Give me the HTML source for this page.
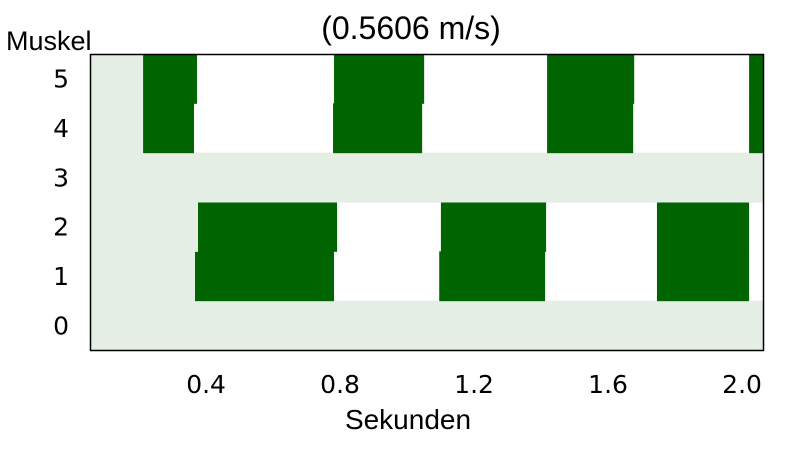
<!DOCTYPE html>
<html><head><meta charset="utf-8"><style>
body{margin:0;background:#fff}
svg text{font-family:"DejaVu Sans","Liberation Sans",sans-serif;fill:#000}
svg text.lib{font-family:"Liberation Sans",sans-serif}
</style></head><body>
<svg width="800" height="450">
<g id="plot"></g>
<text class="lib" x="411" y="39" font-size="32" text-anchor="middle">(0.5606 m/s)</text>
<text class="lib" x="6" y="50" font-size="27">Muskel</text>
<text class="lib" x="408" y="429" font-size="28" text-anchor="middle">Sekunden</text>
<g id="ticks"></g>
<rect x="90.5" y="54.5" width="673" height="296" fill="none" stroke="#000" stroke-width="1.5"/>
</svg>
<script>
const rows=[0,1,2,3,4,5];
const onsets={1:[0.367,1.096,1.746],2:[0.376,1.101,1.746],4:[0.212,0.779,1.418,2.021],5:[0.212,0.782,1.418,2.021]};
const offsets={1:[0.782,1.412,2.021],2:[0.791,1.415,2.021],4:[0.364,1.045,1.675,2.07],5:[0.373,1.051,1.678,2.07]};
const xTicks=[0.4,0.8,1.2,1.6,2.0];
const xTickLabels=["0.4","0.8","1.2","1.6","2.0"];
const xMin=0.055,xMax=2.064;
const L=90.5,R=763.5,T=54,B=350;
const x=t=>L+(Math.min(Math.max(t,xMin),xMax)-xMin)/(xMax-xMin)*(R-L);
const rh=(B-T)/rows.length;
const y=r=>B-(r+1)*rh;
const ns="http://www.w3.org/2000/svg";
const plot=document.getElementById('plot'),ticks=document.getElementById('ticks');
function mk(p,tag,a){const e=document.createElementNS(ns,tag);for(const k in a)e.setAttribute(k,a[k]);p.appendChild(e);return e;}
rows.forEach(r=>{
  const on=onsets[r];
  const bgEnd=on?x(on[0]):R;
  const bg=mk(plot,'rect',{x:L,y:y(r),width:bgEnd-L,height:rh+0.5,fill:'#e4eee4'});
  
  
  if(on){on.forEach((s,i)=>{
    const b=mk(plot,'rect',{x:x(s),y:y(r),width:x(offsets[r][i])-x(s),height:rh+0.5,fill:'#006400'});
    
    
  });}
  const t=mk(ticks,'text',{x:69,y:y(r)+rh/2+9,'font-size':25,'text-anchor':'end'});
  t.textContent=r;
  
  
});
xTicks.forEach((v,i)=>{
  const t=mk(ticks,'text',{x:x(v),y:393,'font-size':25,'text-anchor':'middle'});
  t.textContent=xTickLabels[i];
  
  
});
</script>
</body></html>
